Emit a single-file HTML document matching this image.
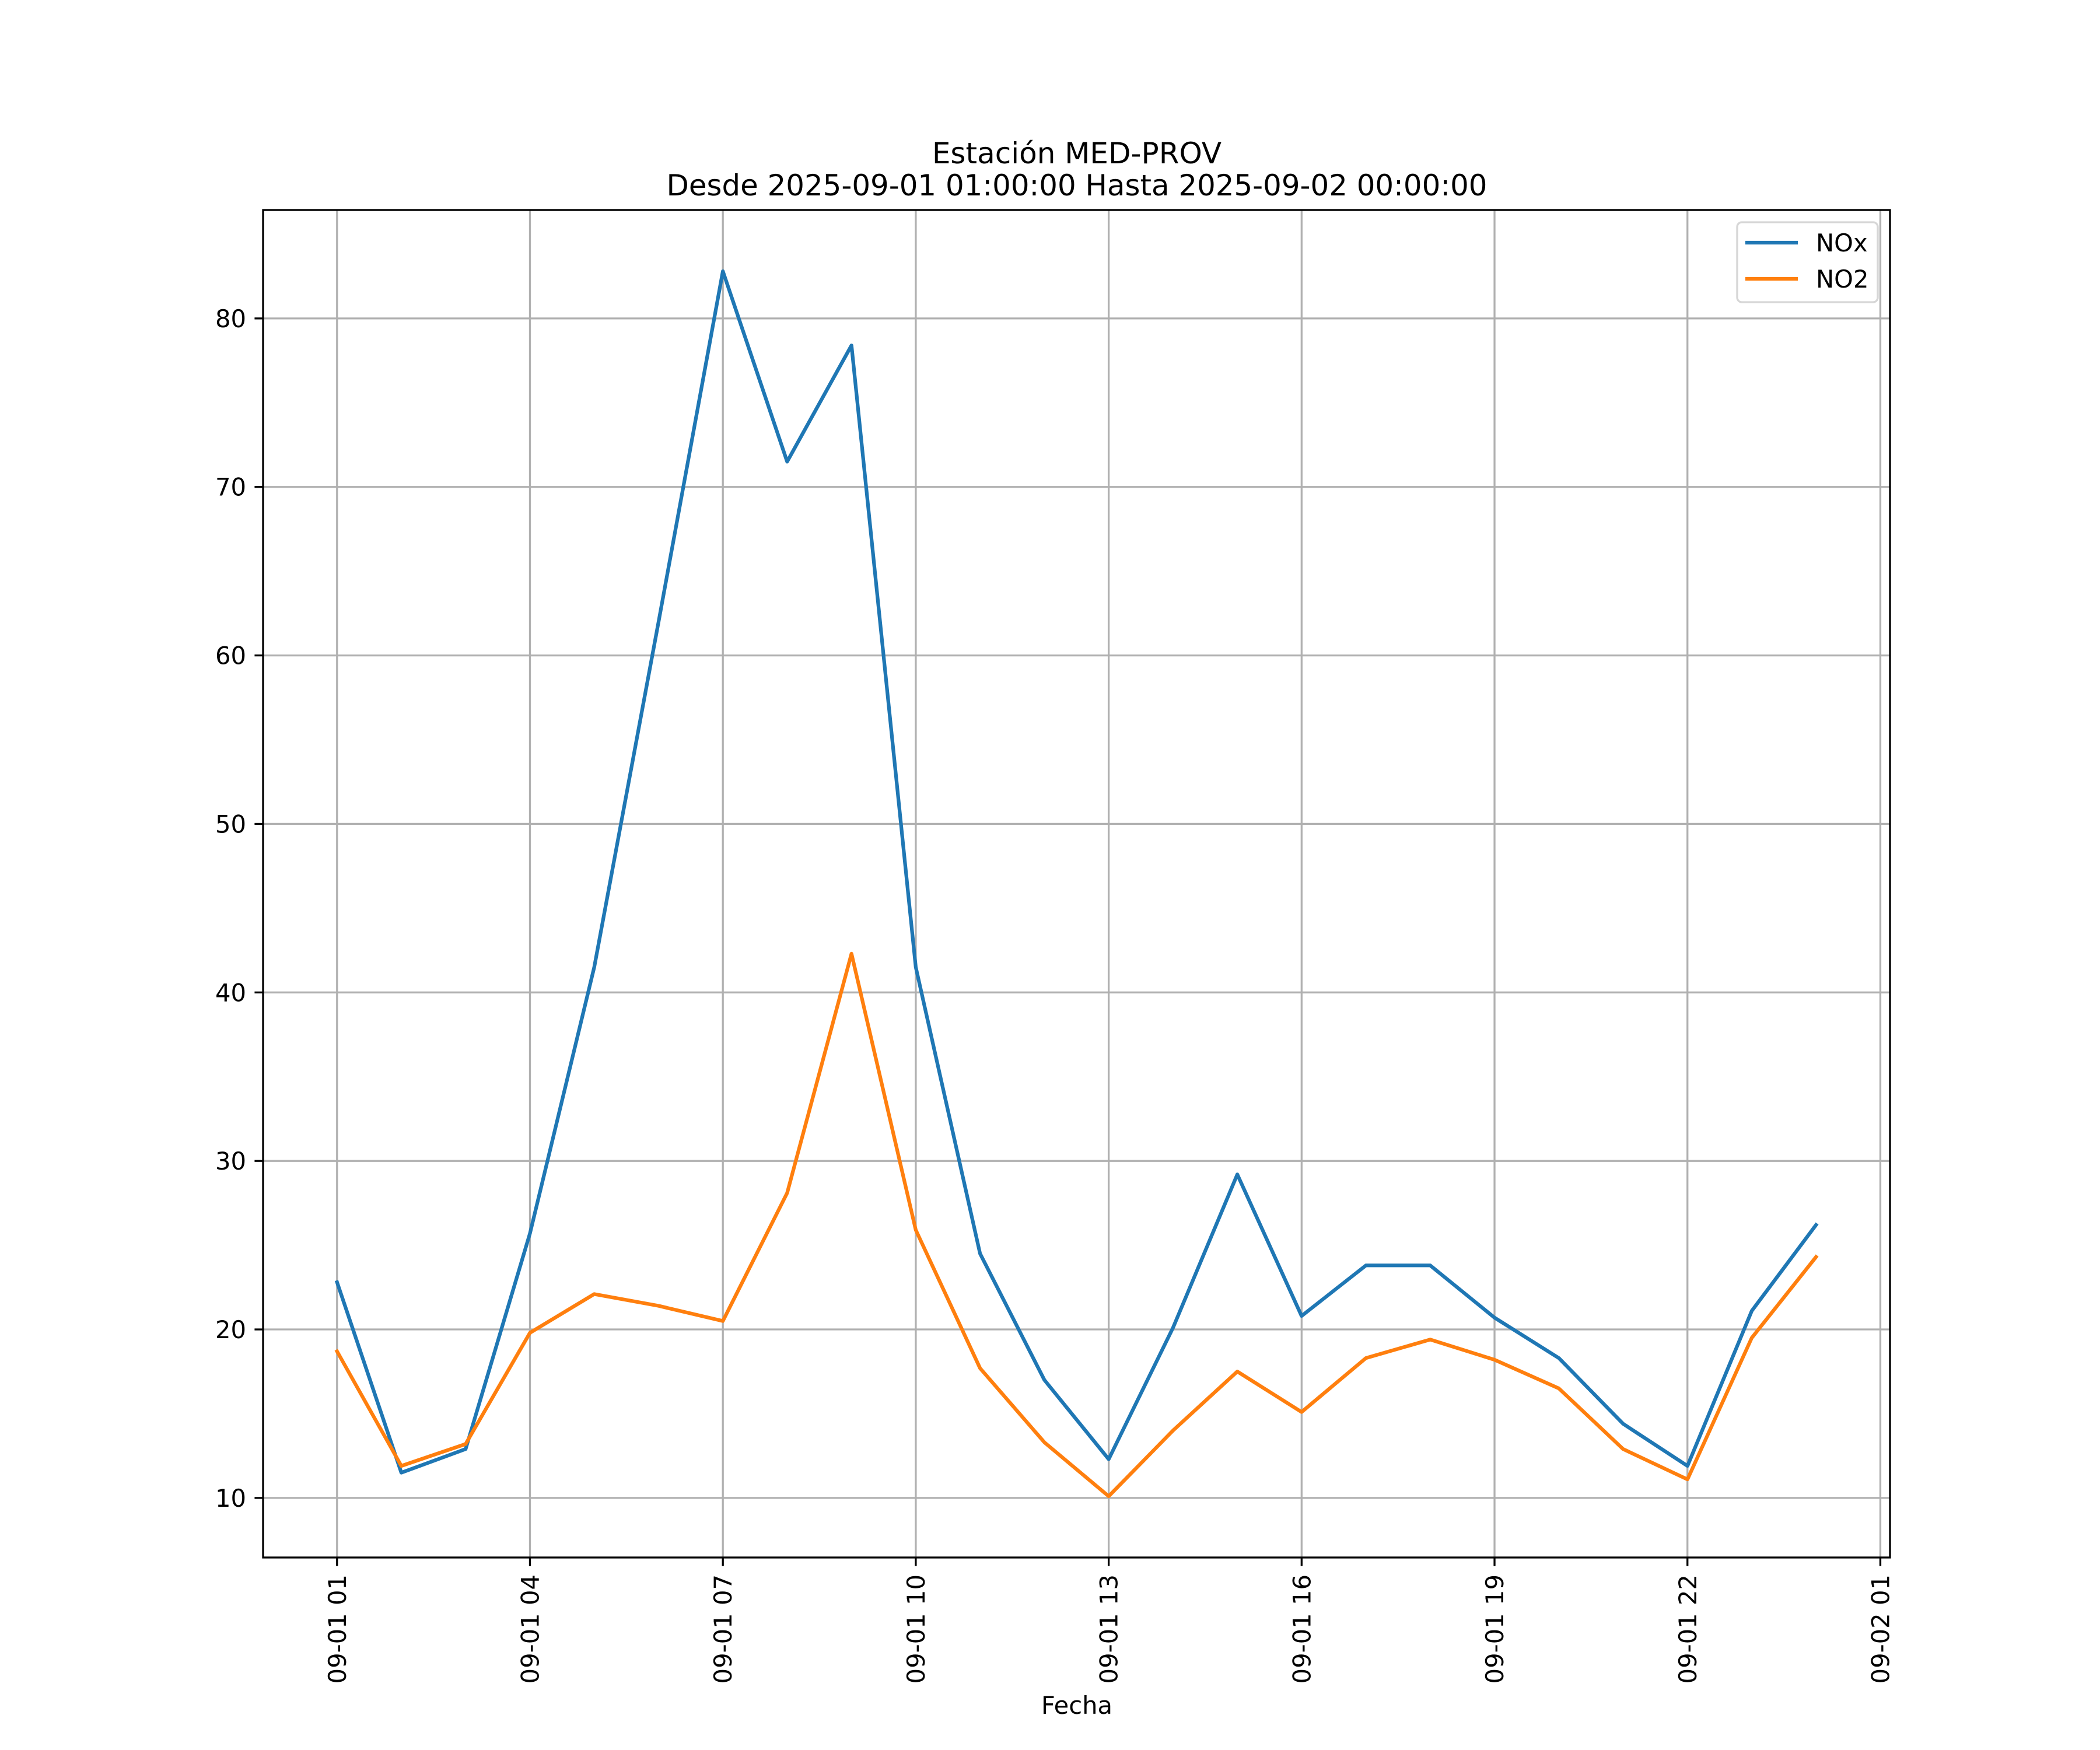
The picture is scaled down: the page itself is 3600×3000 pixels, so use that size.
<!DOCTYPE html>
<html><head><meta charset="utf-8"><style>
html,body{margin:0;padding:0;background:#fff;}
svg{display:block;font-family:"DejaVu Sans","Liberation Sans",sans-serif;}
</style></head><body>
<svg id="chart" width="3600" height="3000" viewBox="0 0 3600 3000" xmlns="http://www.w3.org/2000/svg">
<rect width="3600" height="3000" fill="#fff"/>
<text x="1846" y="280" font-size="50" text-anchor="middle">Estación MED-PROV</text>
<text x="1846" y="335" font-size="50" text-anchor="middle" textLength="1407" lengthAdjust="spacingAndGlyphs">Desde 2025-09-01 01:00:00 Hasta 2025-09-02 00:00:00</text>
<g id="grid"></g>
<g id="ticks"></g>
<g id="series"></g>
<rect x="451" y="360" width="2789" height="2310" fill="none" stroke="#000" stroke-width="3.3"/>
<text x="1846" y="2938" font-size="41.7" text-anchor="middle">Fecha</text>
<g>
<rect x="2978" y="381" width="241" height="137" rx="8" fill="#fff" fill-opacity="0.8" stroke="#d6d6d6" stroke-width="3.3"/>
<g>
<line x1="2992" y1="416" x2="3082" y2="416" stroke="#1f77b4" stroke-width="6.25"/>
<text x="3113" y="431" font-size="41.7">NOx</text></g>
<g>
<line x1="2992" y1="478" x2="3082" y2="478" stroke="#ff7f0e" stroke-width="6.25"/>
<text x="3113" y="493" font-size="41.7">NO2</text></g>
</g>
</svg>
<script>
const hours = [1,2,3,4,5,6,7,8,9,10,11,12,13,14,15,16,17,18,19,20,21,22,23,24];
const noxValues = [22.8,11.5,12.9,25.7,41.5,62,82.8,71.5,78.4,41.5,24.5,17,12.3,20.1,29.2,20.8,23.8,23.8,20.7,18.3,14.4,11.9,21.1,26.2];
const no2Values = [18.7,11.9,13.2,19.8,22.1,21.4,20.5,28.1,42.3,25.9,17.7,13.3,10.1,14.0,17.5,15.1,18.3,19.4,18.2,16.5,12.9,11.1,19.5,24.3];
const yTicks = [10,20,30,40,50,60,70,80];
const xTickHours = [1,4,7,10,13,16,19,22,25];
const xTickLabels = ["09-01 01","09-01 04","09-01 07","09-01 10","09-01 13","09-01 16","09-01 19","09-01 22","09-02 01"];

const NS="http://www.w3.org/2000/svg";
const L=451,R=3240,T=360,B=2670;
const allV=noxValues.concat(no2Values);
const vmin=Math.min(...allV),vmax=Math.max(...allV),vr=vmax-vmin;
const y0=vmin-0.05*vr,y1=vmax+0.05*vr;
const hmin=Math.min(...hours),hmax=Math.max(...hours),hr=hmax-hmin;
const x0=hmin-0.05*hr,x1=hmax+0.05*hr;
function xs(h){return L+(h-x0)/(x1-x0)*(R-L);}
function ys(v){return B-(v-y0)/(y1-y0)*(B-T);}
function mk(tag,attrs,parent){const e=document.createElementNS(NS,tag);for(const k in attrs)e.setAttribute(k,attrs[k]);parent.appendChild(e);return e;}
const grid=document.getElementById('grid'),ticks=document.getElementById('ticks'),series=document.getElementById('series');
yTicks.forEach(v=>{
  const y=ys(v);
  const g=mk('line',{x1:L,x2:R,y1:y,y2:y,stroke:'#b0b0b0','stroke-width':3.3},grid);
  
  
  const t=mk('line',{x1:L-14.6,x2:L,y1:y,y2:y,stroke:'#000','stroke-width':3.3},ticks);
  
  
  const tx=mk('text',{x:L-29,y:y+15,'font-size':41.7,'text-anchor':'end'},ticks);
  tx.textContent=v;
  
  
});
xTickHours.forEach((h,i)=>{
  const x=xs(h);
  const g=mk('line',{x1:x,x2:x,y1:T,y2:B,stroke:'#b0b0b0','stroke-width':3.3},grid);
  
  
  const t=mk('line',{x1:x,x2:x,y1:B,y2:B+14.6,stroke:'#000','stroke-width':3.3},ticks);
  
  
  const tx=mk('text',{x:0,y:0,'font-size':41.7,'text-anchor':'end',transform:`translate(${x+15},${B+29}) rotate(-90)`},ticks);
  tx.textContent=xTickLabels[i];
  
  
});
function line(vals,color,name){
  const pts=vals.map((v,i)=>xs(hours[i]).toFixed(1)+','+ys(v).toFixed(1)).join(' ');
  const p=mk('polyline',{points:pts,fill:'none',stroke:color,'stroke-width':6.25,'stroke-linejoin':'round','stroke-linecap':'square'},series);
  
  
}
line(noxValues,'#1f77b4','nox-line');
line(no2Values,'#ff7f0e','no2-line');
</script>
</body></html>
